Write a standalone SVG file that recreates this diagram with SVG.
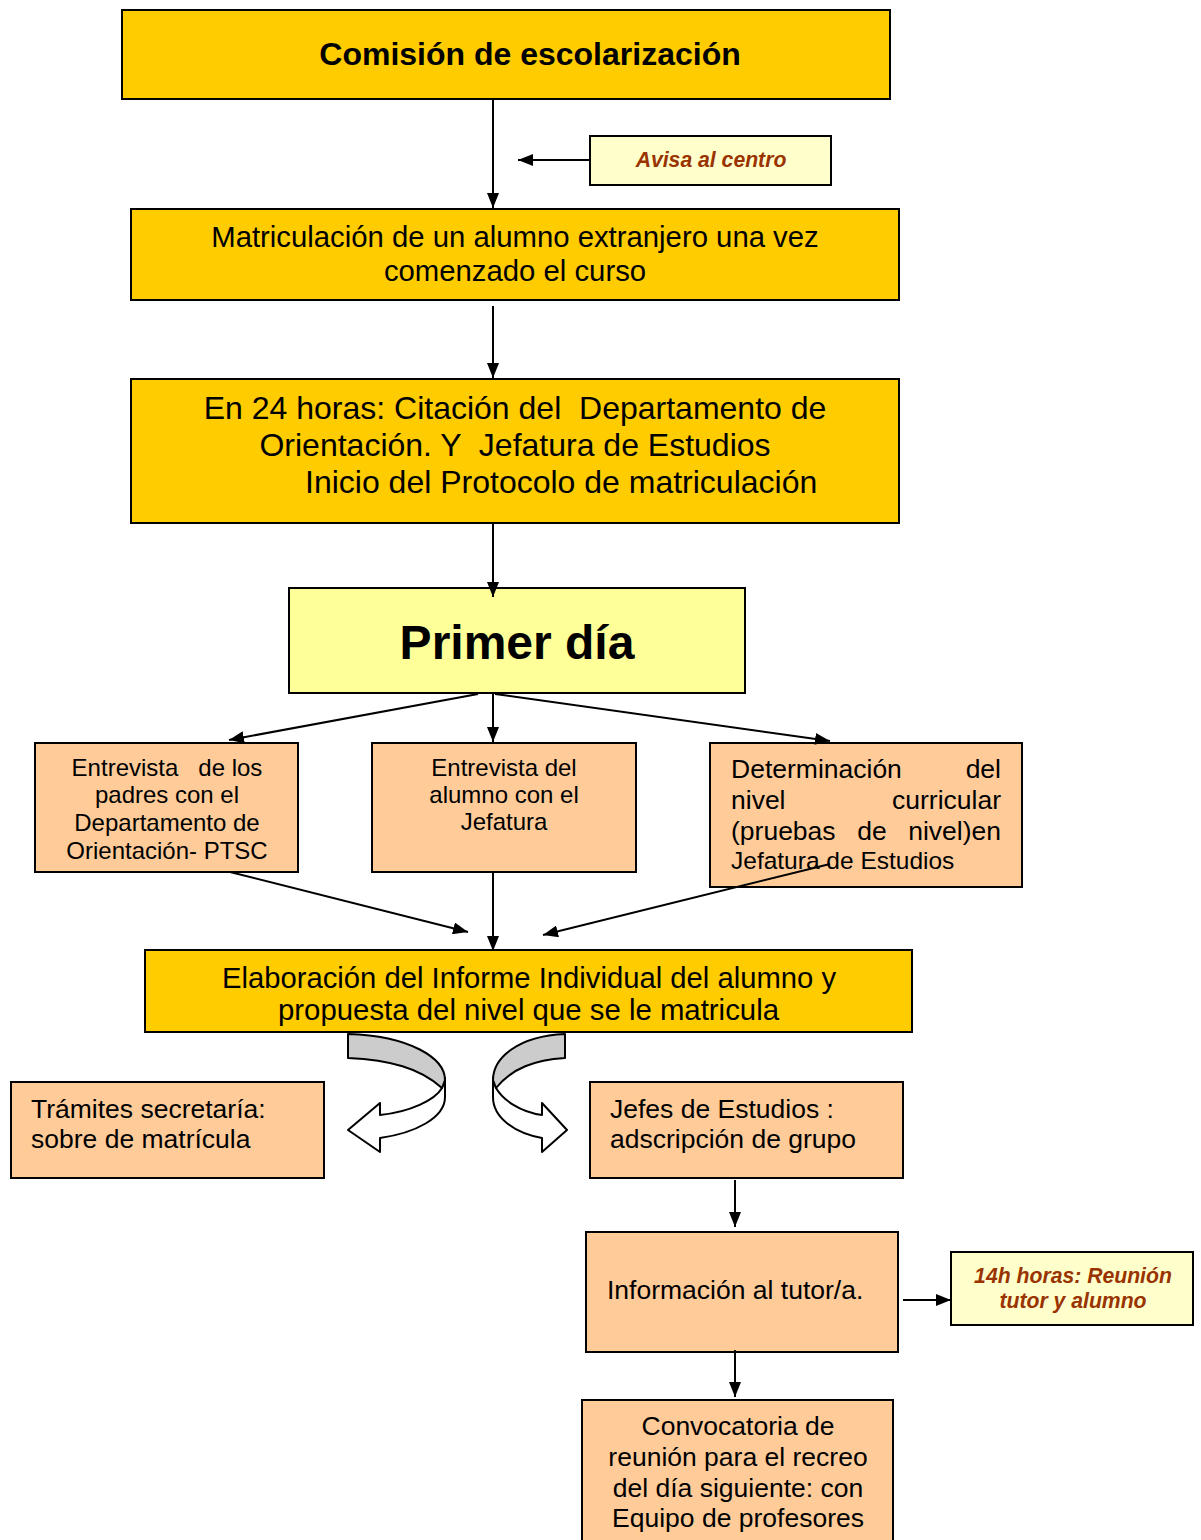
<svg xmlns="http://www.w3.org/2000/svg" width="1201" height="1540" viewBox="0 0 1201 1540">
<style>
.box{stroke:#000;stroke-width:2}
.gold{fill:#FFCC00}
.peach{fill:#FFCC99}
.lyel{fill:#FFFF99}
.note{fill:#FFFFCC}
text{font-family:"Liberation Sans",Arial,sans-serif;fill:#000}
.t29{font-size:29.3px}
.t32{font-size:32px}
.t24{font-size:24px}
.t26{font-size:26.5px}
.it{font-size:21.2px;font-style:italic;font-weight:bold;fill:#993300}
.c{text-anchor:middle}
.e{text-anchor:end}
.conn line{stroke:#000;stroke-width:2}
.rib{stroke:#000;stroke-width:2;stroke-linejoin:round}
</style>
<defs>
<marker id="ah" markerWidth="15" markerHeight="12" refX="15" refY="6" orient="auto" markerUnits="userSpaceOnUse">
<path d="M0,0 L15,6 L0,12 Z" fill="#000"/>
</marker>
</defs>
<rect width="1201" height="1540" fill="#fff"/>

<g id="comision">
<rect class="box gold" x="122" y="10" width="768" height="89"/>
<text class="c" x="530" y="65" font-size="32" font-weight="bold">Comisión de escolarización</text>
</g>
<g id="avisa">
<rect class="box note" x="590" y="136" width="241" height="49"/>
<text class="it c" x="711" y="167">Avisa al centro</text>
</g>
<g id="matriculacion">
<rect class="box gold" x="131" y="209" width="768" height="91"/>
<text class="t29 c" x="515" y="247">Matriculación de un alumno extranjero una vez</text>
<text class="t29 c" x="515" y="281">comenzado el curso</text>
</g>
<g id="citacion">
<rect class="box gold" x="131" y="379" width="768" height="144"/>
<text class="t32 c" x="515" y="419" xml:space="preserve">En 24 horas: Citación del  Departamento de</text>
<text class="t32 c" x="515" y="456" xml:space="preserve">Orientación. Y  Jefatura de Estudios</text>
<text class="t32" x="305" y="493">Inicio del Protocolo de matriculación</text>
</g>
<g id="primer">
<rect class="box lyel" x="289" y="588" width="456" height="105"/>
<text class="c" x="517" y="659" font-size="48" font-weight="bold">Primer día</text>
</g>
<g id="entrevista-padres">
<rect class="box peach" x="35" y="743" width="263" height="129"/>
<text class="t24 c" x="167" y="776" xml:space="preserve">Entrevista   de los</text>
<text class="t24 c" x="167" y="803">padres con el</text>
<text class="t24 c" x="167" y="831">Departamento de</text>
<text class="t24 c" x="167" y="859">Orientación- PTSC</text>
</g>
<g id="entrevista-alumno">
<rect class="box peach" x="372" y="743" width="264" height="129"/>
<text class="t24 c" x="504" y="776">Entrevista del</text>
<text class="t24 c" x="504" y="803">alumno con el</text>
<text class="t24 c" x="504" y="830">Jefatura</text>
</g>
<g id="determinacion">
<rect class="box peach" x="710" y="743" width="312" height="144"/>
<text class="t26" x="731" y="778">Determinación</text>
<text class="t26 e" x="1001" y="778">del</text>
<text class="t26" x="731" y="809">nivel</text>
<text class="t26 e" x="1001" y="809">curricular</text>
<text class="t26" x="731" y="840">(pruebas</text>
<text class="t26 c" x="872" y="840">de</text>
<text class="t26 e" x="1001" y="840">nivel)en</text>
<text x="731" y="869" font-size="24.5">Jefatura de Estudios</text>
</g>
<g id="elaboracion">
<rect class="box gold" x="145" y="950" width="767" height="82"/>
<text class="t29" x="222" y="988" textLength="614" lengthAdjust="spacingAndGlyphs">Elaboración del Informe Individual del alumno y</text>
<text class="t29" x="278" y="1020" textLength="501" lengthAdjust="spacingAndGlyphs">propuesta del nivel que se le matricula</text>
</g>
<g id="tramites">
<rect class="box peach" x="11" y="1082" width="313" height="96"/>
<text class="t26" x="31" y="1118">Trámites secretaría:</text>
<text class="t26" x="31" y="1148">sobre de matrícula</text>
</g>
<g id="jefes">
<rect class="box peach" x="590" y="1082" width="313" height="96"/>
<text class="t26" x="610" y="1118">Jefes de Estudios :</text>
<text class="t26" x="610" y="1148">adscripción de grupo</text>
</g>
<g id="informacion">
<rect class="box peach" x="586" y="1232" width="312" height="120"/>
<text class="t26" x="607" y="1299">Información al tutor/a.</text>
</g>
<g id="reunion">
<rect class="box note" x="951" y="1252" width="242" height="73"/>
<text class="it c" x="1073" y="1283">14h horas: Reunión</text>
<text class="it c" x="1073" y="1308">tutor y alumno</text>
</g>
<g id="convocatoria">
<rect class="box peach" x="582" y="1400" width="311" height="150"/>
<text class="t26 c" x="738" y="1435">Convocatoria de</text>
<text class="t26 c" x="738" y="1466">reunión para el recreo</text>
<text class="t26 c" x="738" y="1497">del día siguiente: con</text>
<text class="t26 c" x="738" y="1527">Equipo de profesores</text>
</g>

<g id="connectors" class="conn">
<line x1="493" y1="100" x2="493" y2="208" marker-end="url(#ah)"/>
<line x1="590" y1="160" x2="518" y2="160" marker-end="url(#ah)"/>
<line x1="493" y1="306" x2="493" y2="378" marker-end="url(#ah)"/>
<line x1="493" y1="523" x2="493" y2="597" marker-end="url(#ah)"/>
<line x1="478" y1="694" x2="229" y2="740" marker-end="url(#ah)"/>
<line x1="493" y1="694" x2="493" y2="742" marker-end="url(#ah)"/>
<line x1="495" y1="694" x2="830" y2="741" marker-end="url(#ah)"/>
<line x1="230" y1="872" x2="468" y2="932" marker-end="url(#ah)"/>
<line x1="493" y1="872" x2="493" y2="951" marker-end="url(#ah)"/>
<line x1="830" y1="864" x2="543" y2="935" marker-end="url(#ah)"/>
<line x1="735" y1="1180" x2="735" y2="1227" marker-end="url(#ah)"/>
<line x1="903" y1="1300" x2="951" y2="1300" marker-end="url(#ah)"/>
<line x1="735" y1="1350" x2="735" y2="1397" marker-end="url(#ah)"/>
<g id="curved-left">
<path class="rib" fill="#fff" d="M445,1078 L445,1097 C445,1118 415,1133 380,1138 L380,1152 L348,1130 L380,1103 L380,1115 C410,1112 435,1100 442,1088 Z"/>
<path class="rib" fill="#CCCCCC" d="M348,1034 C410,1036 445,1058 445,1080 L442,1088 C420,1068 390,1060 348,1058 Z"/>
</g>
<g id="curved-right">
<path class="rib" fill="#fff" d="M493,1078 L493,1097 C493,1118 515,1133 542,1138 L542,1152 L567,1130 L542,1103 L542,1115 C520,1112 503,1100 496,1088 Z"/>
<path class="rib" fill="#CCCCCC" d="M565,1034 C518,1036 493,1058 493,1080 L496,1088 C512,1068 535,1060 565,1058 Z"/>
</g>
</g>
</svg>
